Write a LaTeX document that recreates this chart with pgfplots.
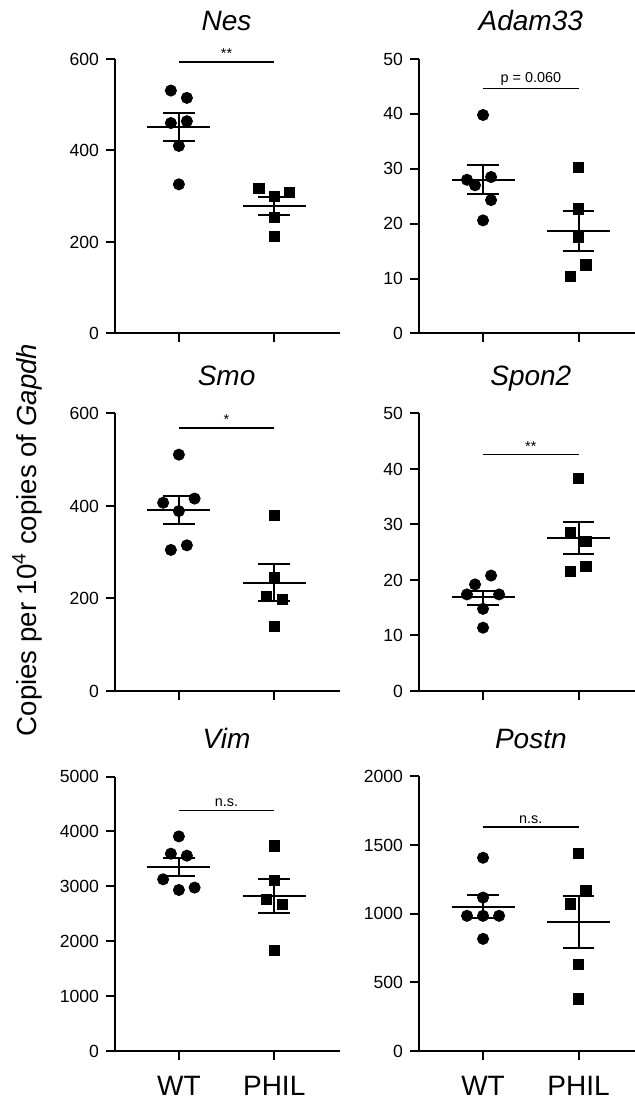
\documentclass[border=0pt]{standalone}
\usepackage{fontspec}
\setmainfont{Liberation Sans}
\usepackage{pgfplots}
\pgfplotsset{compat=1.18}

\pgfplotsset{
  panel/.style={
    scale only axis,
    axis x line*=bottom, axis y line*=left,
    axis line style={line width=1pt, black},
    tick align=outside, major tick length=4.5pt,
    tick style={line width=1pt, black},
    xtick={1,2}, xticklabels={,},
    ymin=0, clip=false,
    ticklabel style={font=\fontsize{8.8}{10}\selectfont},
    /pgf/number format/assume math mode=true,
    /pgf/number format/1000 sep={},
    scaled y ticks=false,
  },
  leftcol/.style={panel, width=112.5pt, xmin=0.33, xmax=2.69},
  rightcol/.style={panel, width=108pt, xmin=0.33, xmax=2.59},
  bottomrow/.style={xticklabels={WT,PHIL},
    xticklabel style={font=\fontsize{14}{16}\selectfont, yshift=-4.5pt}},
  wt/.style={only marks, mark=*, mark size=2.8pt, black},
  ph/.style={only marks, mark=square*, mark size=2.6pt, black},
  bar/.style={black, line width=1pt, no marks},
  sig/.style={black, line width=0.8pt, no marks},
}
\newcommand{\paneltitle}[2]{\node[anchor=base, font=\fontsize{14}{16}\selectfont\itshape, yshift=14pt] at (axis cs:1.5,#1) {#2};}
\newcommand{\siglabel}[2]{\node[anchor=south, font=\fontsize{7.2}{8}\selectfont, inner sep=1.5pt] at (axis cs:1.5,#1) {#2};}

\begin{document}
\begin{tikzpicture}

% Nes
\begin{axis}[leftcol, at={(57.5pt,383.75pt)}, anchor=south west, height=137.25pt,
  ymax=600, ytick={0,200,400,600}]
\addplot[wt] coordinates {(0.916,531) (1.084,515) (0.916,460) (1.084,464) (1,410) (1,326)};
\addplot[ph] coordinates {(1.84,317) (2,299) (2.16,308) (2,254) (2,212)};
\addplot[bar] coordinates {(0.67,451) (1.33,451)};
\addplot[bar] coordinates {(1,421) (1,482)};
\addplot[bar] coordinates {(0.834,482) (1.166,482)};
\addplot[bar] coordinates {(0.834,421) (1.166,421)};
\addplot[bar] coordinates {(1.67,278) (2.33,278)};
\addplot[bar] coordinates {(2,258) (2,299)};
\addplot[bar] coordinates {(1.834,299) (2.166,299)};
\addplot[bar] coordinates {(1.834,258) (2.166,258)};
\addplot[sig] coordinates {(1,593) (2,593)};
\siglabel{593}{**}
\paneltitle{600}{Nes}
\end{axis}

% Adam33
\begin{axis}[rightcol, at={(209.5pt,383.75pt)}, anchor=south west, height=137.25pt,
  ymax=50, ytick={0,10,20,30,40,50}]
\addplot[wt] coordinates {(1,39.8) (0.832,28.0) (0.916,27.0) (1.084,28.5) (1.084,24.3) (1,20.6)};
\addplot[ph] coordinates {(2,30.2) (2,22.7) (2,17.6) (2.077,12.5) (1.916,10.4)};
\addplot[bar] coordinates {(0.67,28.0) (1.33,28.0)};
\addplot[bar] coordinates {(1,25.4) (1,30.6)};
\addplot[bar] coordinates {(0.834,30.6) (1.166,30.6)};
\addplot[bar] coordinates {(0.834,25.4) (1.166,25.4)};
\addplot[bar] coordinates {(1.67,18.6) (2.33,18.6)};
\addplot[bar] coordinates {(2,15.0) (2,22.3)};
\addplot[bar] coordinates {(1.834,22.3) (2.166,22.3)};
\addplot[bar] coordinates {(1.834,15.0) (2.166,15.0)};
\addplot[sig] coordinates {(1,44.6) (2,44.6)};
\siglabel{44.6}{p = 0.060}
\paneltitle{50}{Adam33}
\end{axis}

% Smo
\begin{axis}[leftcol, at={(57.5pt,205pt)}, anchor=south west, height=138.75pt,
  ymax=600, ytick={0,200,400,600}]
\addplot[wt] coordinates {(1,511) (0.835,407) (1.165,416) (1,389) (0.916,305) (1.084,315)};
\addplot[ph] coordinates {(2,380) (2,246) (1.92,204) (2.084,198) (2,140)};
\addplot[bar] coordinates {(0.67,391) (1.33,391)};
\addplot[bar] coordinates {(1,360) (1,421)};
\addplot[bar] coordinates {(0.834,421) (1.166,421)};
\addplot[bar] coordinates {(0.834,360) (1.166,360)};
\addplot[bar] coordinates {(1.67,234) (2.33,234)};
\addplot[bar] coordinates {(2,194) (2,275)};
\addplot[bar] coordinates {(1.834,275) (2.166,275)};
\addplot[bar] coordinates {(1.834,194) (2.166,194)};
\addplot[sig] coordinates {(1,568) (2,568)};
\siglabel{568}{*}
\paneltitle{600}{Smo}
\end{axis}

% Spon2
\begin{axis}[rightcol, at={(209.5pt,205pt)}, anchor=south west, height=138.75pt,
  ymax=50, ytick={0,10,20,30,40,50}]
\addplot[wt] coordinates {(1,11.4) (1,14.8) (0.832,17.4) (1.168,17.4) (0.916,19.2) (1.084,20.8)};
\addplot[ph] coordinates {(2,38.3) (1.916,28.5) (2.077,26.9) (2.077,22.4) (1.916,21.5)};
\addplot[bar] coordinates {(0.67,16.85) (1.33,16.85)};
\addplot[bar] coordinates {(1,15.5) (1,18.0)};
\addplot[bar] coordinates {(0.834,18.0) (1.166,18.0)};
\addplot[bar] coordinates {(0.834,15.5) (1.166,15.5)};
\addplot[bar] coordinates {(1.67,27.6) (2.33,27.6)};
\addplot[bar] coordinates {(2,24.6) (2,30.5)};
\addplot[bar] coordinates {(1.834,30.5) (2.166,30.5)};
\addplot[bar] coordinates {(1.834,24.6) (2.166,24.6)};
\addplot[sig] coordinates {(1,42.6) (2,42.6)};
\siglabel{42.6}{**}
\paneltitle{50}{Spon2}
\end{axis}

% Vim
\begin{axis}[leftcol, bottomrow, at={(57.5pt,25pt)}, anchor=south west, height=137.25pt,
  ymax=5000, ytick={0,1000,2000,3000,4000,5000}]
\addplot[wt] coordinates {(1,3909) (0.916,3594) (1.084,3558) (0.835,3127) (1,2933) (1.165,2976)};
\addplot[ph] coordinates {(2,3739) (2,3109) (1.92,2758) (2.084,2673) (2,1836)};
\addplot[bar] coordinates {(0.67,3352) (1.33,3352)};
\addplot[bar] coordinates {(1,3194) (1,3521)};
\addplot[bar] coordinates {(0.834,3521) (1.166,3521)};
\addplot[bar] coordinates {(0.834,3194) (1.166,3194)};
\addplot[bar] coordinates {(1.67,2824) (2.33,2824)};
\addplot[bar] coordinates {(2,2515) (2,3133)};
\addplot[bar] coordinates {(1.834,3133) (2.166,3133)};
\addplot[bar] coordinates {(1.834,2515) (2.166,2515)};
\addplot[sig] coordinates {(1,4382) (2,4382)};
\siglabel{4382}{n.s.}
\paneltitle{5000}{Vim}
\end{axis}

% Postn
\begin{axis}[rightcol, bottomrow, at={(209.5pt,25pt)}, anchor=south west, height=137.25pt,
  ymax=2000, ytick={0,500,1000,1500,2000}]
\addplot[bar] coordinates {(0.67,1050) (1.33,1050)};
\addplot[bar] coordinates {(1,968) (1,1133)};
\addplot[bar] coordinates {(0.834,1133) (1.166,1133)};
\addplot[bar] coordinates {(0.834,968) (1.166,968)};
\addplot[wt] coordinates {(1,1408) (1,1118) (0.832,985) (1,985) (1.168,985) (1,817)};
\addplot[ph] coordinates {(2,1439) (2.077,1169) (1.916,1072) (2,632) (2,379)};
\addplot[bar] coordinates {(1.67,940) (2.33,940)};
\addplot[bar] coordinates {(2,749) (2,1130)};
\addplot[bar] coordinates {(1.834,1130) (2.166,1130)};
\addplot[bar] coordinates {(1.834,749) (2.166,749)};
\addplot[sig] coordinates {(1,1634) (2,1634)};
\siglabel{1634}{n.s.}
\paneltitle{2000}{Postn}
\end{axis}

\node[rotate=90, font=\fontsize{13.8}{16}\selectfont] at (13.5pt,280.5pt) {Copies per 10\textsuperscript{4} copies of \textit{Gapdh}};

\pgfresetboundingbox
\path[use as bounding box] (0,0) rectangle (317.5pt,550.5pt);
\end{tikzpicture}
\end{document}
